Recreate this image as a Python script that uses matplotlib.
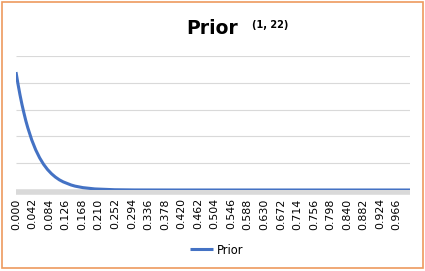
import matplotlib
matplotlib.use("Agg")
import matplotlib.pyplot as plt
from matplotlib.patches import Rectangle

# curve (x, density)
x_vals = [0.000, 0.005, 0.010, 0.015, 0.020, 0.025, 0.030, 0.040, 0.050, 0.060,
          0.070, 0.080, 0.090, 0.100, 0.110, 0.120, 0.140, 0.150, 0.170, 0.200,
          0.250, 0.300, 0.400, 0.600, 0.800, 1.000]
y_vals = [22.0, 19.8, 17.8, 16.0, 14.4, 12.9, 11.6, 9.33, 7.49, 6.00,
          4.79, 3.82, 3.04, 2.41, 1.90, 1.51, 0.93, 0.72, 0.44, 0.20,
          0.05, 0.01, 0.0, 0.0, 0.0, 0.0]
tick_vals = [i * 0.042 for i in range(24)]
tick_labels = [f"{v:.3f}" for v in tick_vals]
y_grid = [0, 5, 10, 15, 20, 25]

W, H = 425, 271
fig = plt.figure(figsize=(W / 100, H / 100), dpi=100)
fig.patch.set_facecolor("white")
fig.patches.append(Rectangle((1.5 / W, 3 / H), 421 / W, 266.5 / H, transform=fig.transFigure,
                             fill=False, edgecolor="#ED9A5E", linewidth=1.2))

ax = fig.add_axes([16 / W, (H - 190) / H, 394 / W, 134 / H])
ax.set_xlim(0, 1)
ax.set_ylim(0, 25)
for g in y_grid[1:]:
    ax.axhline(g, color="#D9D9D9", linewidth=0.8, zorder=0, solid_capstyle="butt")
ax.axhline(-0.35, color="#D9D9D9", linewidth=4, zorder=1, clip_on=False,
           solid_capstyle="butt")
ax.plot(x_vals, y_vals, color="#4472C4", linewidth=2.2, zorder=3, label="Prior",
        solid_capstyle="butt")

for s in ax.spines.values():
    s.set_visible(False)
ax.set_yticks([])
ax.set_xticks(tick_vals)
ax.set_xticklabels(tick_labels, rotation=90, fontsize=7.9, color="#000000",
                   family="DejaVu Sans")
ax.tick_params(axis="x", length=0, pad=6)

fig.text(212 / W, 1 - 28 / H, "Prior", ha="center", va="center", fontsize=13.5,
         fontweight="bold", family="DejaVu Sans")
fig.text(270 / W, 1 - 25 / H, "(1, 22)", ha="center", va="center", fontsize=7,
         fontweight="bold", family="DejaVu Sans")

ax.legend(loc="center", bbox_to_anchor=(0.51, (250 - 190) / -134), frameon=False,
          fontsize=8.3, handlelength=2.0, handletextpad=0.3, borderaxespad=0)

fig.savefig("out.png", dpi=100)
